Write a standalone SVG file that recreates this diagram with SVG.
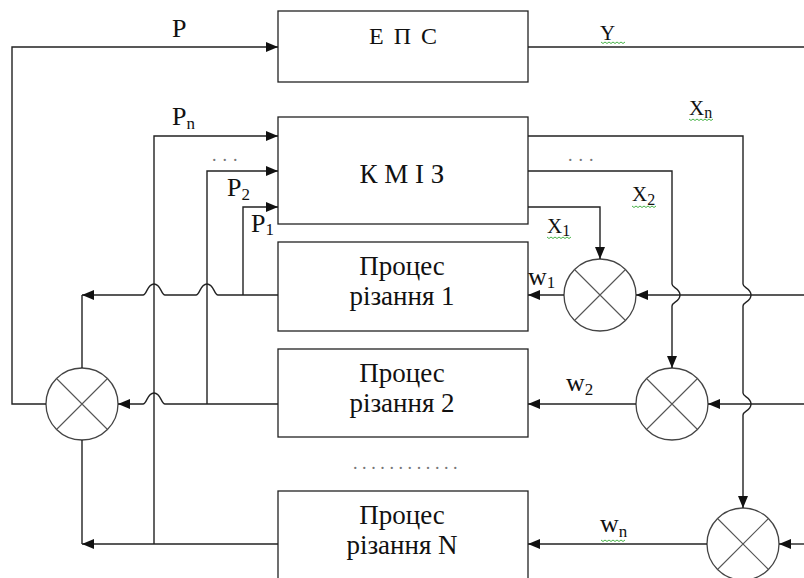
<svg xmlns="http://www.w3.org/2000/svg" xmlns:xlink="http://www.w3.org/1999/xlink" width="804" height="578" viewBox="0 0 804 578">
<style>
.box{fill:#fff;stroke:#222;stroke-width:1.3}
.sum{fill:#fff;stroke:#444;stroke-width:1.3}
.cross{stroke:#555;stroke-width:1.1}
.ln{fill:none;stroke:#222;stroke-width:1.4}
.ar{marker-end:url(#ah)}
.t{font-family:"Liberation Serif","Times New Roman",serif;fill:#111}
.bt{font-size:27px;text-anchor:middle}
.eps{font-size:24px;text-anchor:middle;word-spacing:4px}
.lb{font-size:26px}
.sm{font-size:21px}
.dots{font-family:"Liberation Serif","Times New Roman",serif;font-size:18px;fill:#777}
.sq{fill:none;stroke:#3a3;stroke-width:0.9}
</style>
<defs>
<marker id="ah" markerUnits="userSpaceOnUse" markerWidth="12" markerHeight="10" refX="12" refY="5" orient="auto">
<path d="M0,0 L12,5 L0,10 z" fill="#111"/>
</marker>
<path id="sqg" class="sq" d="M0,0 l2,1.5 l2,-1.5 l2,1.5 l2,-1.5 l2,1.5 l2,-1.5 l2,1.5 l2,-1.5 l2,1.5 l2,-1.5 l2,1.5 l2,-1.5"/>
</defs>

<g id="eps">
<rect class="box" x="278" y="11" width="250" height="71"/>
<text class="t eps" x="403" y="44">Е П С</text>
</g>
<g id="kmiz">
<rect class="box" x="278" y="117" width="250" height="107"/>
<text class="t bt" x="402" y="183">К М І З</text>
</g>
<g id="proc1">
<rect class="box" x="278" y="242" width="250" height="89"/>
<text class="t bt" x="402" y="275">Процес</text>
<text class="t bt" x="402" y="305">різання 1</text>
</g>
<g id="proc2">
<rect class="box" x="278" y="349" width="250" height="88"/>
<text class="t bt" x="402" y="382">Процес</text>
<text class="t bt" x="402" y="412">різання 2</text>
</g>
<g id="procN">
<rect class="box" x="278" y="491" width="250" height="92"/>
<text class="t bt" x="402" y="524">Процес</text>
<text class="t bt" x="402" y="554">різання N</text>
</g>

<g id="sum1">
<circle class="sum" cx="600" cy="295" r="36"/>
<path class="cross" d="M574.5,269.5 L625.5,320.5 M625.5,269.5 L574.5,320.5"/>
</g>
<g id="sum2">
<circle class="sum" cx="672" cy="404" r="36"/>
<path class="cross" d="M646.5,378.5 L697.5,429.5 M697.5,378.5 L646.5,429.5"/>
</g>
<g id="sumN">
<circle class="sum" cx="743" cy="544" r="36"/>
<path class="cross" d="M717.5,518.5 L768.5,569.5 M768.5,518.5 L717.5,569.5"/>
</g>
<g id="sumL">
<circle class="sum" cx="82" cy="404" r="36"/>
<path class="cross" d="M56.5,378.5 L107.5,429.5 M107.5,378.5 L56.5,429.5"/>
</g>

<g id="connectors">
<path class="ln ar" d="M46,404 H12 V47 H278"/>
<path class="ln" d="M528,47 H804"/>
<path class="ln ar" d="M154,544 V136 H278"/>
<path class="ln ar" d="M207,404 V171 H278"/>
<path class="ln ar" d="M243,295 V207 H278"/>
<path class="ln ar" d="M278,295 H218 C214,295 214,284 207,284 C200,284 200,295 196,295 H165 C161,295 161,284 154,284 C147,284 147,295 143,295 H82"/>
<path class="ln" d="M82,295 V368"/>
<path class="ln ar" d="M278,404 H165 C161,404 161,393 154,393 C147,393 147,404 143,404 H118"/>
<path class="ln ar" d="M278,544 H82"/>
<path class="ln" d="M82,440 V544"/>
<path class="ln ar" d="M528,207 H600 V259"/>
<path class="ln ar" d="M528,171 H672 V284 C672,288 680,288 680,295 C680,302 672,302 672,306 V368"/>
<path class="ln ar" d="M528,136 H743 V284 C743,288 751,288 751,295 C751,302 743,302 743,306 V393 C743,397 751,397 751,404 C751,411 743,411 743,415 V508"/>
<path class="ln ar" d="M804,295 H636"/>
<path class="ln ar" d="M804,404 H708"/>
<path class="ln ar" d="M804,544 H779"/>
<path class="ln ar" d="M564,295 H528"/>
<path class="ln ar" d="M636,404 H528"/>
<path class="ln ar" d="M707,544 H528"/>

<text class="t lb" x="172" y="37">P</text>
<text class="t lb" x="172" y="125">P<tspan font-size="17" dy="4">n</tspan></text>
<text class="t lb" x="227" y="196">P<tspan font-size="17" dy="4">2</tspan></text>
<text class="t lb" x="251" y="232">P<tspan font-size="17" dy="3">1</tspan></text>
<text class="t" x="600" y="40" font-size="21">Y</text>
<text class="t sm" x="547" y="233">X<tspan font-size="16" dy="3">1</tspan></text>
<text class="t sm" x="632" y="201">X<tspan font-size="16" dy="4">2</tspan></text>
<text class="t sm" x="689" y="115">X<tspan font-size="16" dy="3">n</tspan></text>
<text class="t lb" x="528" y="285">w<tspan font-size="17" dy="3">1</tspan></text>
<text class="t lb" x="566" y="391">w<tspan font-size="17" dy="4">2</tspan></text>
<text class="t lb" x="600" y="532">w<tspan font-size="17" dy="5">n</tspan></text>
<text class="dots" x="212" y="161" letter-spacing="6">...</text>
<text class="dots" x="568" y="161" letter-spacing="6">...</text>
<text class="dots" x="353" y="469" letter-spacing="4.6">............</text>
<use xlink:href="#sqg" x="601" y="42"/>
<use xlink:href="#sqg" x="547" y="237"/>
<use xlink:href="#sqg" x="632" y="206"/>
<use xlink:href="#sqg" x="689" y="119"/>
<use xlink:href="#sqg" x="601" y="540"/>
</g>
</svg>
